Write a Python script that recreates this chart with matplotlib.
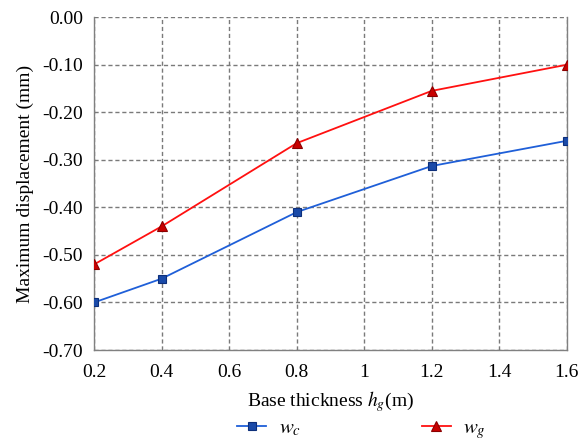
import matplotlib.pyplot as plt

plt.rcParams['font.family'] = ['Liberation Serif', 'DejaVu Serif']
plt.rcParams['mathtext.fontset'] = 'stix'

# data
thickness = [0.2, 0.4, 0.8, 1.2, 1.6]
w_c = [-0.60, -0.55, -0.41, -0.313, -0.26]
w_g = [-0.52, -0.44, -0.265, -0.155, -0.10]
x_ticks = [0.2, 0.4, 0.6, 0.8, 1.0, 1.2, 1.4, 1.6]
x_labels = ['0.2', '0.4', '0.6', '0.8', '1', '1.2', '1.4', '1.6']
y_ticks = [0.0, -0.1, -0.2, -0.3, -0.4, -0.5, -0.6, -0.7]

fig = plt.figure(figsize=(5.88, 4.40), dpi=100)
ax = fig.add_axes([0.160, 0.2045, 0.804, 0.7565])

ax.plot(thickness, w_c, color='#1f5fd8', lw=1.3, marker='s', ms=6,
        mfc='#1a4aa8', mec='#0d2f7a', mew=0.8, label='$w_c$', zorder=3)
ax.plot(thickness, w_g, color='#ff1010', lw=1.3, marker='^', ms=6.5,
        mfc='#c80000', mec='#8a0000', mew=0.8, label='$w_g$', zorder=3)

ax.set_xlim(0.2, 1.6)
ax.set_ylim(-0.70, 0.0)
ax.set_xticks(x_ticks)
ax.set_xticklabels(x_labels)
ax.set_yticks(y_ticks)
ax.set_yticklabels([f'{v:.2f}' for v in y_ticks])
ax.tick_params(length=0, labelsize=14, pad=10)
ax.tick_params(axis='y', pad=8)

ax.grid(True, color='#7a7a7a', ls=(0, (3, 2)), lw=1.0)
for s in ['left', 'bottom', 'right']:
    ax.spines[s].set_color('#808080')
    ax.spines[s].set_linewidth(1.0)
ax.spines['top'].set_visible(False)

ax.set_xlabel('Base thickness $h_g$(m)', fontsize=14, labelpad=6)
ax.set_ylabel('Maximum displacement (mm)', fontsize=14, labelpad=6)

fig.legend(loc='center', bbox_to_anchor=(0.615, 0.022), ncol=2,
           frameon=False, fontsize=15, columnspacing=5.8, handlelength=1.4,
           borderpad=0, handletextpad=0.6)

fig.savefig('out.png', dpi=100)
